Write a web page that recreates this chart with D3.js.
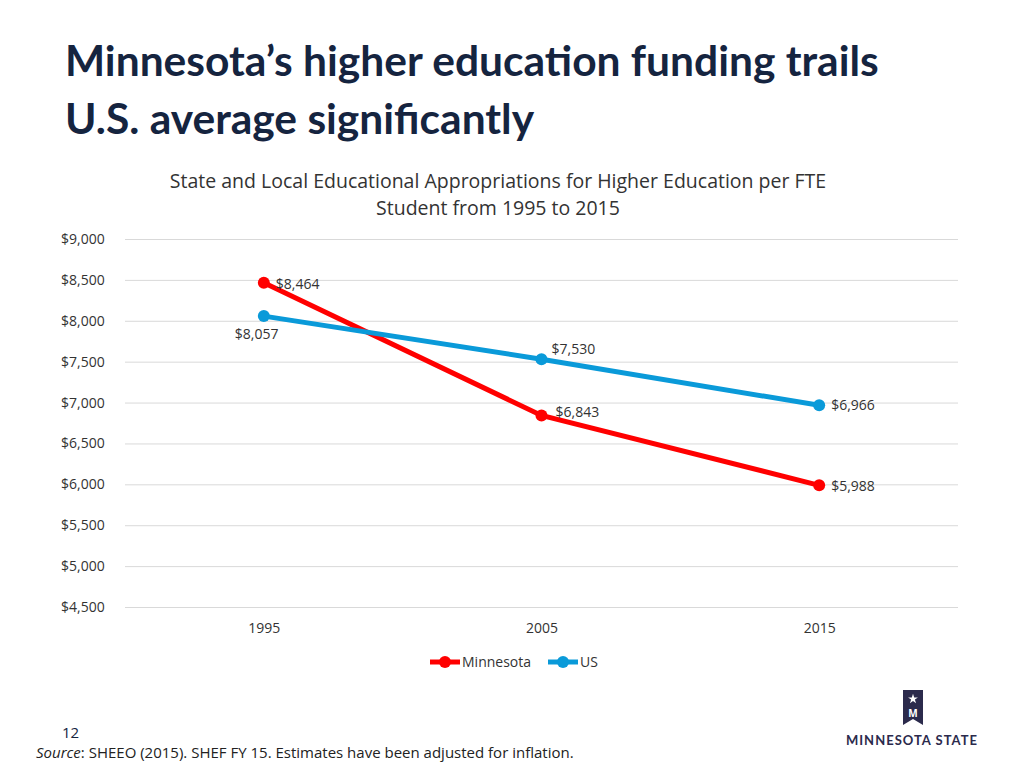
<!DOCTYPE html>
<html>
<head>
<meta charset="utf-8">
<script src="https://cdn.jsdelivr.net/npm/d3@7"></script>
<style>
  body { margin: 0; background: #fff; }
  svg, svg text { font-family: "Open Sans", sans-serif; }
</style>
</head>
<body>
<svg id="chart" width="1024" height="768"></svg>
<script>
// ==================== DATA ==================== //
const years = ["1995", "2005", "2015"];
const minnesota = [8464, 6843, 5988];
const us = [8057, 7530, 6966];
const yTicks = [4500, 5000, 5500, 6000, 6500, 7000, 7500, 8000, 8500, 9000];

const svg = d3.select("#chart");

// ==================== TITLES ==================== //
svg.append("text").attr("x", 65).attr("y", 76)
    .style("font-family", "Lato, sans-serif").attr("font-weight", "bold")
    .attr("font-size", 42.5).attr("fill", "#15243f")
    .text("Minnesota\u2019s higher education funding trails");
svg.append("text").attr("x", 65).attr("y", 134)
    .style("font-family", "Lato, sans-serif").attr("font-weight", "bold")
    .attr("font-size", 42.5).attr("fill", "#15243f")
    .text("U.S. average significantly");

svg.append("text").attr("x", 498).attr("y", 188).attr("text-anchor", "middle")
    .attr("font-size", 19.5).attr("fill", "#333")
    .text("State and Local Educational Appropriations for Higher Education per FTE");
svg.append("text").attr("x", 498).attr("y", 215).attr("text-anchor", "middle")
    .attr("font-size", 19.5).attr("fill", "#333")
    .text("Student from 1995 to 2015");

// ==================== SCALES ==================== //
const x = d3.scalePoint().domain(years).range([125, 958]).padding(0.5);
const y = d3.scaleLinear().domain([4500, 9000]).range([607, 239]);
const fmt = d => "$" + d3.format(",")(d);

// grid + y labels
const yAxis = svg.append("g").attr("transform", "translate(125,0)")
    .call(d3.axisLeft(y).tickValues(yTicks).tickSize(-833).tickFormat(fmt).tickPadding(14));
yAxis.select(".domain").remove();
yAxis.selectAll("line").attr("stroke", "#d9d9d9");
yAxis.selectAll("text").attr("font-size", 14).attr("fill", "#333")
    .attr("text-anchor", "start").attr("x", -64);

const xAxis = svg.append("g").attr("transform", "translate(0,607)")
    .call(d3.axisBottom(x).tickSize(0).tickPadding(16));
xAxis.select(".domain").remove();
xAxis.selectAll("text").attr("font-size", 14).attr("fill", "#333");

// ==================== SERIES ==================== //
const series = [
    { name: "Minnesota", values: minnesota, color: "#ff0000",
      labelDx: [12, 14, 12], labelDy: [6, 2, 6] },
    { name: "US", values: us, color: "#0a9ad9",
      labelDx: [-29, 10, 12], labelDy: [23, -5, 5] }
];

const line = d3.line().x((d, i) => x(years[i])).y(d => y(d));

series.forEach(s => {
    svg.append("path").datum(s.values).attr("d", line)
        .attr("fill", "none").attr("stroke", s.color).attr("stroke-width", 5);
    svg.selectAll(null).data(s.values).enter().append("circle")
        .attr("cx", (d, i) => x(years[i])).attr("cy", d => y(d))
        .attr("r", 6).attr("fill", s.color);
    svg.selectAll(null).data(s.values).enter().append("text")
        .attr("x", (d, i) => x(years[i]) + s.labelDx[i])
        .attr("y", (d, i) => y(d) + s.labelDy[i])
        .attr("font-size", 14).attr("fill", "#333")
        .text(fmt);
});

// ==================== LEGEND ==================== //
const legend = svg.append("g").attr("transform", "translate(430,662)");
series.forEach((s, i) => {
    const g = legend.append("g").attr("transform", `translate(${i * 118},0)`);
    g.append("line").attr("x1", 0).attr("x2", 30).attr("stroke", s.color).attr("stroke-width", 5);
    g.append("circle").attr("cx", 15).attr("r", 6).attr("fill", s.color);
    g.append("text").attr("x", 32).attr("y", 5).attr("font-size", 14).attr("fill", "#333").text(s.name);
});

// ==================== FOOTER ==================== //
svg.append("text").attr("x", 62).attr("y", 738).attr("font-size", 15).attr("fill", "#15243f").text("12");
const src = svg.append("text").attr("x", 36).attr("y", 758).attr("font-size", 15).attr("fill", "#222");
src.append("tspan").attr("font-style", "italic").text("Source");
src.append("tspan").text(": SHEEO (2015). SHEF FY 15. Estimates have been adjusted for inflation.");

// logo
const logo = svg.append("g").attr("transform", "translate(903,690)");
logo.append("path").attr("d", "M0,0 H20 V35 L10,29 L0,35 Z").attr("fill", "#2b2a4c");
logo.append("path").attr("d", d3.symbol(d3.symbolStar, 30)()).attr("transform", "translate(10,9)").attr("fill", "#fff");
logo.append("text").attr("x", 10).attr("y", 27).attr("text-anchor", "middle")
    .attr("font-size", 10).attr("font-weight", "bold").attr("fill", "#fff").text("M");
svg.append("text").attr("x", 912).attr("y", 745).attr("text-anchor", "middle")
    .style("font-family", "Lato, sans-serif").attr("font-size", 13).attr("font-weight", "bold")
    .attr("letter-spacing", 1).attr("fill", "#2b2a4c").text("MINNESOTA STATE");
</script>
</body>
</html>
